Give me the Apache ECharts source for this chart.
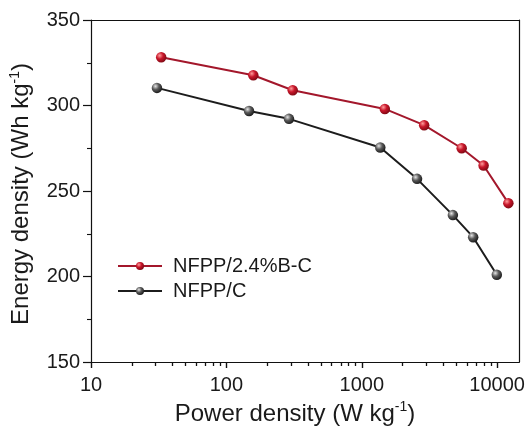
<!DOCTYPE html>
<html>
<head>
<meta charset="utf-8">
<script src="https://cdn.jsdelivr.net/npm/echarts@6/dist/echarts.min.js"></script>
<style>
  html, body { margin: 0; padding: 0; background: #fff; }
  #chart { width: 531px; height: 428px; }
</style>
</head>
<body>
<div id="chart"></div>
<script>
// Ragone plot: energy density vs power density for two cathode materials
var seriesNames = ['NFPP/2.4%B-C', 'NFPP/C'];

var powerBC = [33, 158, 309, 1480, 2890, 5470, 7940, 12100];
var energyBC = [328.2, 317.7, 308.9, 298.0, 288.5, 275.0, 264.9, 242.9];

var powerC = [30.7, 147, 290, 1370, 2560, 4710, 6650, 9940];
var energyC = [310.3, 296.8, 292.2, 275.4, 257.1, 235.9, 223.0, 201.0];

var xMajorTicks = [10, 100, 1000, 10000];
var xMinorTicks = [20, 30, 40, 50, 60, 70, 80, 90,
                   200, 300, 400, 500, 600, 700, 800, 900,
                   2000, 3000, 4000, 5000, 6000, 7000, 8000, 9000];
var yTicks = { min: 150, max: 350, step: 50 };
var xRange = { min: 10, max: 14500 };

function pairs(xs, ys) {
  return xs.map(function (x, i) { return [x, ys[i]]; });
}

function ball(light, mid, dark) {
  return {
    type: 'radial', x: 0.36, y: 0.34, r: 0.72,
    colorStops: [
      { offset: 0, color: light },
      { offset: 0.45, color: mid },
      { offset: 1, color: dark }
    ]
  };
}

var FONT = '"Liberation Sans", Arial, sans-serif';
var INK = '#1a1a1a';
var AXIS = '#111111';

var supStyle = { fontFamily: FONT, fontSize: 14, color: INK, verticalAlign: 'top', lineHeight: 28, padding: [0, 0, 9, 0] };

// plot frame shared by the data grid and the overlay grid (minor ticks + box edges)
var frame = { left: 91, right: 12, top: 20, bottom: 66, containLabel: false, outerBoundsMode: 'none' };
var lineOnly = {
  axisLine: { show: true, onZero: false, lineStyle: { color: AXIS, width: 1.2 } },
  axisTick: { show: false }, axisLabel: { show: false }, splitLine: { show: false }
};

var chart = echarts.init(document.getElementById('chart'), null, { renderer: 'canvas' });

chart.setOption({
  animation: false,
  backgroundColor: '#ffffff',
  textStyle: { fontFamily: FONT, color: INK },
  grid: [Object.assign({}, frame), Object.assign({}, frame)],
  legend: {
    orient: 'vertical',
    left: 112, top: 251,
    itemWidth: 44, itemHeight: 10, itemGap: 5,
    data: seriesNames,
    textStyle: { fontFamily: FONT, fontSize: 20, color: INK, padding: [0, 0, 0, 6] }
  },
  xAxis: [
    {
      gridIndex: 0,
      type: 'log', logBase: 10,
      min: xRange.min, max: xRange.max,
      name: 'Power density (W kg{sup|-1})',
      nameLocation: 'middle', nameGap: 38,
      nameTextStyle: {
        fontFamily: FONT, fontSize: 24, color: INK, lineHeight: 28,
        padding: [0, 20, 0, 0],
        rich: { sup: supStyle }
      },
      axisLine: { show: true, onZero: false, lineStyle: { color: AXIS, width: 1.2 } },
      axisTick: { show: true, inside: false, length: 6, customValues: xMajorTicks, lineStyle: { color: AXIS, width: 1.4 } },
      axisLabel: {
        customValues: xMajorTicks, fontFamily: FONT, fontSize: 20, color: INK, margin: 13,
        formatter: function (v) { return String(Math.round(v)); }
      },
      splitLine: { show: false }
    },
    {
      // log10 units, used only for the short minor ticks under the power axis
      gridIndex: 1,
      type: 'value',
      min: Math.log10(xRange.min), max: Math.log10(xRange.max),
      position: 'bottom',
      axisLine: { show: true, onZero: false, lineStyle: { color: AXIS, width: 1.2 } },
      axisTick: {
        show: true, inside: false, length: 4,
        customValues: xMinorTicks.map(function (v) { return Math.log10(v); }),
        lineStyle: { color: AXIS, width: 1.3 }
      },
      axisLabel: { show: false },
      splitLine: { show: false }
    },
    Object.assign({ gridIndex: 1, type: 'value', min: 0, max: 1, position: 'top' }, lineOnly)
  ],
  yAxis: [
    {
      gridIndex: 0,
      type: 'value',
      min: yTicks.min, max: yTicks.max, interval: yTicks.step,
      name: 'Energy density (Wh kg{sup|-1})',
      nameLocation: 'middle', nameGap: 45,
      nameTextStyle: {
        fontFamily: FONT, fontSize: 24, color: INK, lineHeight: 28,
        padding: [0, 6, 0, 0],
        rich: { sup: supStyle }
      },
      axisLine: { show: true, onZero: false, lineStyle: { color: AXIS, width: 1.2 } },
      axisTick: { show: true, inside: false, length: 8, lineStyle: { color: AXIS, width: 1.2 } },
      minorTick: { show: true, splitNumber: 2, length: 4, lineStyle: { color: AXIS, width: 1.1 } },
      axisLabel: { fontFamily: FONT, fontSize: 20, color: INK, margin: 11 },
      splitLine: { show: false }
    },
    Object.assign({ gridIndex: 1, type: 'value', min: 0, max: 1, position: 'right' }, lineOnly)
  ],
  series: [
    {
      name: seriesNames[1],
      type: 'line',
      xAxisIndex: 0, yAxisIndex: 0,
      data: pairs(powerC, energyC),
      symbol: 'circle', symbolSize: 10.5,
      lineStyle: { color: '#1c1c1c', width: 2 },
      itemStyle: { color: ball('#e6e6e6', '#5a5a5a', '#141414') },
      z: 2
    },
    {
      name: seriesNames[0],
      type: 'line',
      xAxisIndex: 0, yAxisIndex: 0,
      data: pairs(powerBC, energyBC),
      symbol: 'circle', symbolSize: 10.5,
      lineStyle: { color: '#a3172b', width: 2 },
      itemStyle: { color: ball('#ff9c9c', '#c8162a', '#780812') },
      z: 3
    }
  ]
});
</script>
</body>
</html>
